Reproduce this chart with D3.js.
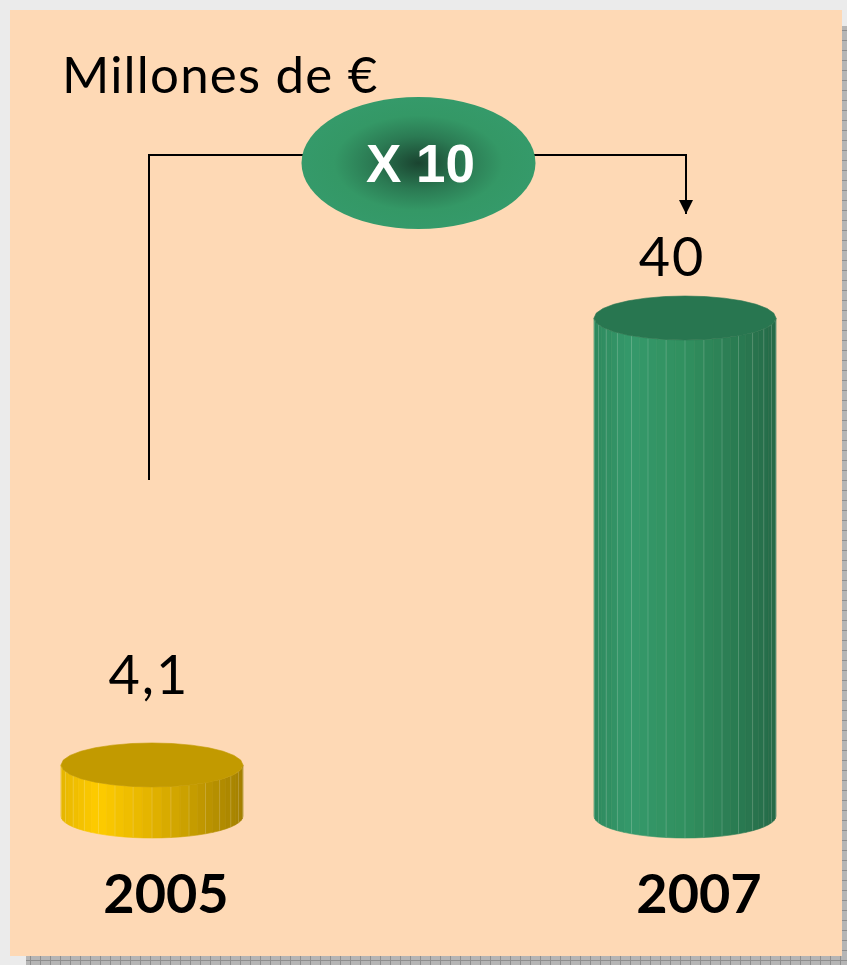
<!DOCTYPE html>
<html>
<head>
<meta charset="utf-8">
<script src="https://cdn.jsdelivr.net/npm/d3@7"></script>
<style>
  body { margin: 0; background: #ebebeb; }
  svg { display: block; }
</style>
</head>
<body>
<div class="canvas"></div>
<script>
// datos
const categories = ['2005', '2007'];
const values = [4.1, 40];
const valueLabels = ['4,1', '40'];
const unitLabel = 'Millones de €';
const growthLabel = 'X 10';

const palettes = [
    { top: '#c29a00', side: ['#e6b600', '#ffcc00', '#e2b300', '#a38000'] },
    { top: '#287650', side: ['#2e8a5e', '#35996b', '#31905f', '#256b48'] }
];

const width = 847, height = 965;

const svg = d3.select('.canvas')
    .append('svg')
    .attr('width', width)
    .attr('height', height);

const defs = svg.append('defs');

// patrón de la sombra
const pat = defs.append('pattern')
    .attr('id', 'shadowPat')
    .attr('width', 10).attr('height', 10)
    .attr('patternUnits', 'userSpaceOnUse');
pat.append('rect').attr('width', 10).attr('height', 10).attr('fill', '#b5b5b5');
pat.append('path').attr('d', 'M0,0.5H10M0.5,0V10').attr('stroke', '#8e8e8e').attr('stroke-width', 1);

const rg = defs.append('radialGradient').attr('id', 'ovalGrad');
rg.append('stop').attr('offset', '0%').attr('stop-color', '#1a4430');
rg.append('stop').attr('offset', '40%').attr('stop-color', '#2b7a53');
rg.append('stop').attr('offset', '72%').attr('stop-color', '#349866');
rg.append('stop').attr('offset', '100%').attr('stop-color', '#359a6a');

// fondo
svg.append('rect').attr('width', width).attr('height', height).attr('fill', '#ebebeb');
svg.append('rect')
    .attr('x', 26).attr('y', 26)
    .attr('width', width - 26).attr('height', height - 26)
    .attr('fill', 'url(#shadowPat)');
svg.append('rect')
    .attr('x', 10).attr('y', 10)
    .attr('width', 832).attr('height', 946)
    .attr('fill', '#fed9b5');

// escalas
const x = d3.scalePoint()
    .domain(categories)
    .range([152, 685]);

const y = d3.scaleLinear()
    .domain([0, 40])
    .range([816, 318]);

const rx = 91, ry = 22;

function cylinder(g, cx, yTop, yBot, pal) {
    const n = 30;
    const col = d3.scaleLinear()
        .domain([-1, -0.6, 0, 1])
        .range(pal.side);

    const a = d3.range(n + 1).map(i => Math.PI * i / n);
    const px = t => cx - rx * Math.cos(t);
    const py = (t, yc) => yc + ry * Math.sin(t);

    const facets = d3.range(n).map(i => ({ a0: a[i], a1: a[i + 1] }));

    g.selectAll('polygon.facet')
        .data(facets)
        .enter()
        .append('polygon')
        .attr('class', 'facet')
        .attr('points', d => [
            [px(d.a0), py(d.a0, yTop)],
            [px(d.a1), py(d.a1, yTop)],
            [px(d.a1), py(d.a1, yBot)],
            [px(d.a0), py(d.a0, yBot)]
        ].join(' '))
        .attr('fill', d => col(-Math.cos((d.a0 + d.a1) / 2)))
        .attr('stroke', d => col(-Math.cos((d.a0 + d.a1) / 2)))
        .attr('stroke-width', 0.6);

    // líneas claras entre caras
    g.selectAll('line.edge')
        .data(a.slice(1, -1).filter((t, i) => i % 2 === 0))
        .enter()
        .append('line')
        .attr('class', 'edge')
        .attr('x1', t => px(t)).attr('x2', t => px(t))
        .attr('y1', t => py(t, yTop)).attr('y2', t => py(t, yBot))
        .attr('stroke', '#ffffff')
        .attr('stroke-opacity', 0.22)
        .attr('stroke-width', 0.8);

    const topPts = d3.range(28).map(i => {
        const t = 2 * Math.PI * i / 28;
        return [cx + rx * Math.cos(t), yTop + ry * Math.sin(t)];
    });
    g.append('polygon')
        .attr('points', topPts.join(' '))
        .attr('fill', pal.top)
        .attr('stroke', pal.top)
        .attr('stroke-width', 0.6);
}

const bars = svg.append('g');
categories.forEach((c, i) => {
    cylinder(bars.append('g'), x(c), y(values[i]), y(0), palettes[i]);
});

// etiquetas de valor
const labelShift = [-3, -13];
const labelDy = [-71, -42];
svg.selectAll('text.value')
    .data(categories)
    .enter()
    .append('text')
    .attr('class', 'value')
    .attr('x', (d, i) => x(d) + labelShift[i])
    .attr('y', (d, i) => y(values[i]) + labelDy[i])
    .attr('text-anchor', 'middle')
    .attr('font-family', 'Lato, sans-serif')
    .attr('font-size', 54)
    .attr('letter-spacing', 2)
    .attr('fill', '#000')
    .text((d, i) => valueLabels[i]);

// eje x (años)
svg.selectAll('text.year')
    .data(categories)
    .enter()
    .append('text')
    .attr('class', 'year')
    .attr('x', d => x(d) + 14)
    .attr('y', y(0) + 97)
    .attr('text-anchor', 'middle')
    .attr('font-family', 'Lato, sans-serif')
    .attr('font-weight', 'bold')
    .attr('font-size', 54)
    .attr('fill', '#000')
    .text(d => d);

// título
svg.append('text')
    .attr('x', 62)
    .attr('y', 93)
    .attr('font-family', 'Lato, sans-serif')
    .attr('font-size', 51)
    .attr('letter-spacing', 1.2)
    .attr('fill', '#000')
    .text(unitLabel);

// conector con flecha
defs.append('marker')
    .attr('id', 'arrow')
    .attr('viewBox', '0 0 10 10')
    .attr('refX', 10).attr('refY', 5)
    .attr('markerWidth', 14).attr('markerHeight', 14)
    .attr('markerUnits', 'userSpaceOnUse')
    .attr('orient', 'auto')
    .append('path')
    .attr('d', 'M0,0L10,5L0,10Z')
    .attr('fill', '#000');

const xl = x(categories[0]) - 3, xr = x(categories[1]) + 1;
const lineY = 155;
svg.append('path')
    .attr('d', `M${xl},480V${lineY}H${xr}V214`)
    .attr('fill', 'none')
    .attr('stroke', '#000')
    .attr('stroke-width', 2)
    .attr('marker-end', 'url(#arrow)');

const cxOval = (x(categories[0]) + x(categories[1])) / 2;
svg.append('ellipse')
    .attr('cx', cxOval).attr('cy', 163)
    .attr('rx', 117).attr('ry', 66)
    .attr('fill', 'url(#ovalGrad)');

svg.append('text')
    .attr('x', cxOval + 2)
    .attr('y', 182)
    .attr('text-anchor', 'middle')
    .attr('font-family', 'Liberation Sans, Arial, sans-serif')
    .attr('font-weight', 'bold')
    .attr('font-size', 53)
    .attr('fill', '#fff')
    .text(growthLabel);
</script>
</body>
</html>
